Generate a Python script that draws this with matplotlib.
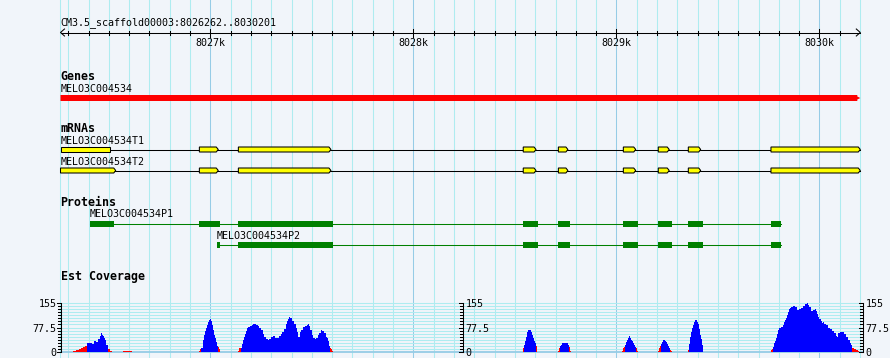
import numpy as np
import matplotlib
matplotlib.use("Agg")
import matplotlib.pyplot as plt
from matplotlib.patches import Polygon, Rectangle
from matplotlib.transforms import offset_copy

# ---------------- data ----------------
REGION_NAME = "CM3.5_scaffold00003"
REGION_START = 8026262
REGION_END = 8030201

GENE_NAME = "MELO3C004534"
GENE_START = 8026262
GENE_END = 8030201

TRANSCRIPT_NAMES = ["MELO3C004534T1", "MELO3C004534T2"]
T1_EXON_STARTS = [8026262, 8026946, 8027138, 8028541, 8028714, 8029034, 8029206, 8029354, 8029761]
T1_EXON_ENDS = [8026506, 8027039, 8027594, 8028604, 8028761, 8029095, 8029260, 8029415, 8030201]
T2_EXON_STARTS = [8026262, 8026946, 8027138, 8028541, 8028714, 8029034, 8029206, 8029354, 8029761]
T2_EXON_ENDS = [8026534, 8027039, 8027594, 8028604, 8028761, 8029095, 8029260, 8029415, 8030201]

PROTEIN_NAMES = ["MELO3C004534P1", "MELO3C004534P2"]
P1_CDS_STARTS = [8026407, 8026946, 8027138, 8028540, 8028712, 8029032, 8029205, 8029352, 8029761]
P1_CDS_ENDS = [8026525, 8027048, 8027604, 8028614, 8028771, 8029106, 8029274, 8029426, 8029810]
P2_CDS_STARTS = [8027033, 8027138, 8028540, 8028712, 8029032, 8029205, 8029352, 8029761]
P2_CDS_ENDS = [8027048, 8027604, 8028614, 8028771, 8029106, 8029274, 8029426, 8029810]

COV_MAX = 155
COV_TICK_LABELS = ["155", "77.5", "0"]

# Est coverage, blue part (position, depth); zeros mark gaps
BLUE_POS = [8026393, 8026417, 8026427, 8026437, 8026447, 8026457, 8026461, 8026466, 8026471, 8026476,
            8026481, 8026486, 8026496,
            8026954, 8026964, 8026969, 8026974, 8026979, 8026984, 8026988, 8026993, 8026998, 8027003,
            8027008, 8027013, 8027018, 8027023, 8027028, 8027033, 8027038,
            8027151, 8027156, 8027161, 8027166, 8027171, 8027176, 8027181, 8027185, 8027195, 8027205,
            8027210, 8027225, 8027235, 8027240, 8027249, 8027259, 8027264, 8027274, 8027284, 8027289,
            8027299, 8027309, 8027318, 8027338, 8027348, 8027353, 8027363, 8027373, 8027378, 8027382,
            8027387, 8027392, 8027402, 8027412, 8027422, 8027427, 8027432, 8027442, 8027446, 8027456,
            8027466, 8027476, 8027481, 8027486, 8027491, 8027501, 8027506, 8027515, 8027520, 8027530,
            8027535, 8027545, 8027550, 8027560, 8027570, 8027575, 8027579, 8027584, 8027589,
            8028545, 8028550, 8028555, 8028560, 8028564, 8028579, 8028584, 8028589, 8028594, 8028599,
            8028604,
            8028722, 8028727, 8028732, 8028761, 8028766,
            8029042, 8029047, 8029052, 8029057, 8029062, 8029067, 8029072, 8029077, 8029082, 8029086,
            8029091, 8029096,
            8029219, 8029224, 8029229, 8029239, 8029244, 8029249, 8029254, 8029259, 8029264,
            8029357, 8029362, 8029367, 8029372, 8029377, 8029382, 8029387, 8029397, 8029402, 8029407,
            8029412, 8029416, 8029421, 8029426,
            8029771, 8029776, 8029781, 8029786, 8029791, 8029796, 8029801, 8029810, 8029820, 8029825,
            8029830, 8029835, 8029840, 8029845, 8029850, 8029855, 8029860, 8029870, 8029879, 8029889,
            8029899, 8029909, 8029919, 8029929, 8029939, 8029943, 8029948, 8029958, 8029968, 8029978,
            8029983, 8029988, 8029993, 8029998, 8030007, 8030012, 8030017, 8030022, 8030032, 8030042,
            8030052, 8030062, 8030071, 8030081, 8030086, 8030091, 8030101, 8030116, 8030121, 8030131,
            8030140, 8030150, 8030155, 8030160]
BLUE_VAL = [28, 25, 35, 31, 41, 50, 60, 54, 50, 44,
            38, 22, 0,
            13, 38, 54, 66, 76, 85, 95, 101, 104, 98,
            85, 70, 54, 44, 32, 19, 0,
            13, 25, 38, 47, 57, 66, 76, 79, 82, 85,
            88, 85, 82, 76, 70, 57, 47, 41, 38, 41,
            47, 50, 44, 50, 57, 63, 73, 88, 98, 104,
            110, 107, 98, 88, 76, 63, 47, 63, 70, 79,
            82, 85, 88, 82, 70, 54, 44, 41, 44, 54,
            60, 70, 66, 60, 47, 44, 35, 19, 0,
            22, 35, 47, 63, 70, 63, 54, 44, 35, 28,
            0,
            19, 22, 28, 22, 0,
            22, 32, 38, 44, 50, 44, 38, 35, 28, 22,
            16, 0,
            25, 32, 38, 35, 32, 25, 19, 13, 0,
            25, 47, 63, 76, 85, 95, 101, 95, 88, 73,
            54, 41, 22, 0,
            16, 28, 35, 44, 57, 70, 76, 79, 85, 95,
            101, 107, 117, 126, 136, 139, 142, 145, 142, 133,
            136, 139, 145, 152, 155, 149, 142, 130, 133, 136,
            130, 120, 110, 104, 98, 92, 95, 88, 85, 76,
            73, 66, 60, 50, 47, 60, 63, 63, 57, 47,
            38, 28, 22, 0]

# Est coverage, red part (position, depth); zeros mark gaps
RED_POS = [8026324, 8026338, 8026353, 8026363, 8026373, 8026383, 8026393,
           8026496, 8026506, 8026516,
           8026570, 8026614,
           8026944, 8026949, 8026954, 8027038, 8027043, 8027048,
           8027136, 8027141, 8027151, 8027589, 8027594, 8027599, 8027604,
           8028540, 8028545, 8028604, 8028609,
           8028712, 8028717, 8028722, 8028766, 8028771, 8028776,
           8029027, 8029032, 8029037, 8029042, 8029096, 8029101, 8029106,
           8029205, 8029210, 8029215, 8029219, 8029264, 8029269, 8029274,
           8029352, 8029357,
           8029761, 8029766, 8029771, 8030160, 8030170, 8030180, 8030190, 8030195]
RED_VAL = [3, 6, 9, 13, 16, 19, 0,
           9, 3, 0,
           3, 0,
           3, 10, 0, 16, 10, 0,
           3, 13, 0, 13, 10, 3, 0,
           13, 0, 19, 0,
           3, 13, 0, 16, 3, 0,
           3, 13, 16, 0, 13, 3, 0,
           3, 13, 19, 0, 6, 3, 0,
           6, 0,
           6, 10, 0, 13, 10, 6, 3, 0]

# ---------------- style ----------------
BG = "#f1f5fa"
GRID_MINOR = "#aeecf0"
GRID_MAJOR = "#96cce6"
MONO = "DejaVu Sans Mono"
FS = 7.2
FS_BOLD = 8.4

W, H = 890, 358
BP_PER_PX = (REGION_END - REGION_START + 1) / 800.0
X_LEFT = REGION_START - 60.5 * BP_PER_PX


def px(n):
    return n * BP_PER_PX


fig = plt.figure(figsize=(W / 100, H / 100), dpi=100, facecolor=BG)
ax = fig.add_axes([0, 0, 1, 1])
ax.set_xlim(X_LEFT, X_LEFT + W * BP_PER_PX)
ax.set_ylim(H, 0)
ax.axis("off")

LW = 0.75

# vertical grid
grid = np.arange(np.ceil(REGION_START / 100) * 100, REGION_END + 1, 100)
ax.axvline(REGION_START - px(1), color=GRID_MINOR, lw=LW, zorder=0)
for g in grid:
    ax.axvline(g, color=GRID_MAJOR if int(g) % 1000 == 0 else GRID_MINOR, lw=LW, zorder=0)

# title + ruler
ax.text(REGION_START, 25.5, f"{REGION_NAME}:{REGION_START}..{REGION_END}",
        family=MONO, fontsize=FS, va="baseline", ha="left")
ruler_y = 32.5
ax.plot([REGION_START, REGION_END], [ruler_y, ruler_y], color="black", lw=LW, zorder=3)
ax.plot([REGION_START + px(4), REGION_START, REGION_START + px(4)],
        [ruler_y - 3.5, ruler_y, ruler_y + 3.5], color="black", lw=LW, zorder=3)
ax.plot([REGION_END - px(4), REGION_END, REGION_END - px(4)],
        [ruler_y - 3.5, ruler_y, ruler_y + 3.5], color="black", lw=LW, zorder=3)
for g in grid:
    if int(g) % 1000 == 0:
        ax.plot([g, g], [ruler_y - 4, ruler_y + 4], color="black", lw=LW, zorder=3)
        ax.text(g, 46, f"{int(g) // 1000}k", family=MONO, fontsize=FS,
                va="baseline", ha="center", zorder=4)
    elif g < REGION_END - px(3):
        ax.plot([g, g], [ruler_y - 2, ruler_y + 2], color="black", lw=LW, zorder=3)

# Genes
ax.text(REGION_START, 80, "Genes", family=MONO, fontsize=FS_BOLD, weight="bold", va="baseline")
ax.text(GENE_START, 92, GENE_NAME, family=MONO, fontsize=FS, va="baseline")
gy0, gy1 = 95, 101
ax.add_patch(Polygon([(GENE_START, gy0), (GENE_END - px(3), gy0), (GENE_END - px(3), gy0 + 1.5),
                      (GENE_END, (gy0 + gy1) / 2), (GENE_END - px(3), gy1 - 1.5),
                      (GENE_END - px(3), gy1), (GENE_START, gy1)],
                     closed=True, facecolor="#ff0000", edgecolor="none", zorder=3))

# mRNAs
ax.text(REGION_START, 132, "mRNAs", family=MONO, fontsize=FS_BOLD, weight="bold", va="baseline")
transcripts = [(T1_EXON_STARTS, T1_EXON_ENDS), (T2_EXON_STARTS, T2_EXON_ENDS)]
t_lines = [149.5, 170.5]
t_labels = [144, 165.3]
FLAT_ENDS = {(0, 0)}
for ti, ((starts, ends), yc, yl) in enumerate(zip(transcripts, t_lines, t_labels)):
    ax.text(starts[0], yl, TRANSCRIPT_NAMES[ti], family=MONO, fontsize=FS, va="baseline")
    ax.plot([starts[0], ends[-1]], [yc, yc], color="black", lw=LW, zorder=2)
    for ei, (s, e) in enumerate(zip(starts, ends)):
        if (ti, ei) in FLAT_ENDS:
            pts = [(s, yc - 2.5), (e, yc - 2.5), (e, yc + 2.5), (s, yc + 2.5)]
        else:
            pts = [(s, yc - 2.5), (e - px(2), yc - 2.5), (e, yc), (e - px(2), yc + 2.5), (s, yc + 2.5)]
        ax.add_patch(Polygon(pts, closed=True, facecolor="#ffff00", edgecolor="black",
                             lw=LW, zorder=3, joinstyle="miter"))

# Proteins
ax.text(REGION_START, 206, "Proteins", family=MONO, fontsize=FS_BOLD, weight="bold", va="baseline")
proteins = [(P1_CDS_STARTS, P1_CDS_ENDS), (P2_CDS_STARTS, P2_CDS_ENDS)]
p_lines = [223.7, 245]
p_labels = [217.3, 239]
for pi, ((starts, ends), yc, yl) in enumerate(zip(proteins, p_lines, p_labels)):
    ax.text(starts[0], yl, PROTEIN_NAMES[pi], family=MONO, fontsize=FS, va="baseline")
    ax.plot([starts[0], ends[-1]], [yc, yc], color="#008000", lw=LW, zorder=2)
    for s, e in zip(starts, ends):
        ax.add_patch(Rectangle((s, yc - 3), e - s, 6, facecolor="#008000", edgecolor="none", zorder=3))

# Est Coverage
ax.text(REGION_START, 280, "Est Coverage", family=MONO, fontsize=FS_BOLD, weight="bold", va="baseline")

y_top, y_bot = 303, 352
cax = fig.add_axes([0, (H - y_bot) / H, 1, (y_bot - y_top) / H])
cax.set_xlim(ax.get_xlim())
cax.set_ylim(0, COV_MAX)
cax.axis("off")
cax.patch.set_alpha(0)

axis_x = [REGION_START, X_LEFT + px(463), X_LEFT + px(863)]
levels = np.linspace(0, COV_MAX, 17)
for v in levels[1:]:
    cax.plot([axis_x[0], axis_x[2]], [v, v], color=GRID_MINOR, lw=LW, zorder=1, clip_on=False)
cax.plot([axis_x[0], axis_x[2]], [0, 0], color=GRID_MAJOR, lw=1.3, zorder=1, clip_on=False)

cax.fill_between(RED_POS, RED_VAL, step="post", color="#ff0000", lw=0, zorder=3,
                 antialiased=False)
cax.fill_between(BLUE_POS, BLUE_VAL, step="post", color="#0000ff", lw=0, zorder=3,
                 antialiased=False)

major_vals = [COV_MAX, COV_MAX / 2, 0]
for k, xa in enumerate(axis_x):
    cax.plot([xa, xa], [0, COV_MAX], color="black", lw=LW, zorder=4, clip_on=False)
    for v in levels:
        ln = 4 if any(abs(v - m) < 1e-6 for m in major_vals) else 3
        cax.plot([xa - px(ln), xa], [v, v], color="black", lw=LW, zorder=4, clip_on=False)
    for lab, v in zip(COV_TICK_LABELS, major_vals):
        tr = offset_copy(cax.transData, fig=fig, x=0, y=-4, units="dots")
        if k == 0:
            cax.text(xa - px(4), v, lab, family=MONO, fontsize=FS, ha="right", va="baseline",
                     transform=tr)
        else:
            cax.text(xa + px(2.5), v, lab, family=MONO, fontsize=FS, ha="left", va="baseline",
                     transform=tr)

fig.savefig("out.png", dpi=100, facecolor=BG)
